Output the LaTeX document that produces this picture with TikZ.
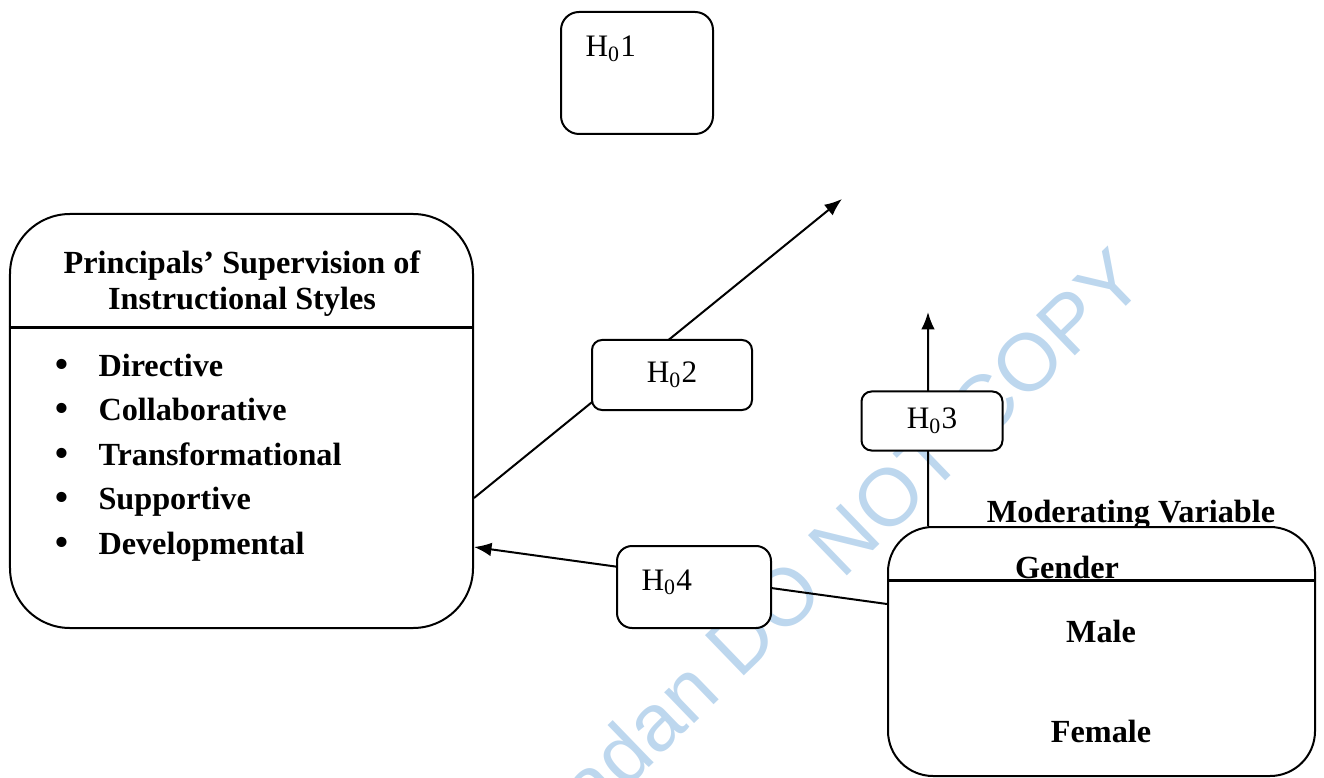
\documentclass[tikz,border=0pt]{standalone}
\usepackage{fontspec}
\setmainfont{Liberation Serif}
\newfontfamily\wmfont{Liberation Sans}
\usepackage{xcolor}
\usepackage{tikz}
\usetikzlibrary{arrows.meta}
\usetikzlibrary{positioning}
\tikzset{>={Latex[length=7pt,width=5.5pt]}}
\definecolor{wmblue}{RGB}{189,215,238}
\tikzstyle{hbox} = [draw, thick, fill=white, rounded corners=4pt, inner sep=0, font=\fontsize{12.5}{14}\selectfont]
\tikzstyle{bigbox} = [draw, thick, fill=white, inner sep=0]
\tikzstyle{hlbl} = [draw=none, inner sep=0, font=\fontsize{12.5}{14}\selectfont]
\tikzstyle{blbl} = [draw=none, inner sep=0, anchor=base, font=\fontsize{12.9}{15}\selectfont\bfseries]
\tikzstyle{dot} = [draw=none, inner sep=0, anchor=base, font=\fontsize{17}{15}\selectfont]

\begin{document}
\begin{tikzpicture}[x=0.4pt, y=-0.4pt]
\useasboundingbox (0,0) rectangle (1324,778);
%\node [draw=none] at (660,20) {watermark};
\node [draw=none, rotate=44, text=wmblue, font=\wmfont\fontsize{32.5}{38}\selectfont] (WM) at (826,556) {Ibadan DO NOT COPY};
\node [bigbox, rounded corners=24pt, minimum width=185.2pt, minimum height=165.6pt] (PS) at (241.5,421) {};
\node [blbl] (PS1) at (242,274) {Principals’ Supervision of};
\node [blbl] (PS2) at (242,310) {Instructional Styles};
\draw [line width=1.2pt] (PS.west |- 0,328) -- (PS.east |- 0,328);
\node [dot] (B1) at (62,378) {\textbullet};
\node [dot] (B2) at (62,422.5) {\textbullet};
\node [dot] (B3) at (62,467) {\textbullet};
\node [dot] (B4) at (62,511.5) {\textbullet};
\node [dot] (B5) at (62,556) {\textbullet};
\node [blbl, anchor=base west] (D1) at (98,376) {Directive};
\node [blbl, anchor=base west] (D2) at (98,420.5) {Collaborative};
\node [blbl, anchor=base west] (D3) at (98,465) {Transformational};
\node [blbl, anchor=base west] (D4) at (98,509.5) {Supportive};
\node [blbl, anchor=base west] (D5) at (98,554) {Developmental};
\node [blbl] (MV) at (1131,522) {Moderating Variable};
\node [bigbox, rounded corners=18pt, minimum width=170.8pt, minimum height=99.6pt] (GV) at (1101.5,651.5) {};
\draw [line width=1.2pt] (GV.west |- 0,580) -- (GV.east |- 0,580);
\node [blbl] (G) at (1067,578) {Gender};
\node [blbl] (M) at (1101,642) {Male};
\node [blbl] (F) at (1101,742) {Female};
\coordinate (T2) at (842,199);
\coordinate (T3) at (928,312);
\draw [->, thick, draw = black] ([yshift=-30.8pt]PS.east) to (T2);
\draw [->, thick, draw = black] ([xshift=-69.4pt]GV.north) to (T3);
\draw [->, thick, draw = black] ([yshift=19pt]GV.west) to ([yshift=-50.4pt]PS.east);
\node [hbox, rounded corners=7.2pt, minimum width=60.8pt, minimum height=48.8pt] (H1) at (637,73) {};
\node [hlbl, anchor=base west] (H1L) at (585,57) {H\textsubscript{0}1};
\node [hbox, minimum width=64pt, minimum height=28pt] (H2) at (672,375) {H\textsubscript{0}2};
\node [hbox, minimum width=56.4pt, minimum height=23.6pt] (H3) at (932,421) {H\textsubscript{0}3};
\node [hbox, rounded corners=6pt, minimum width=61.6pt, minimum height=32.8pt] (H4) at (694,587) {};
\node [hlbl, anchor=base west] (H4L) at (641,590) {H\textsubscript{0}4};
\end{tikzpicture}
\end{document}
